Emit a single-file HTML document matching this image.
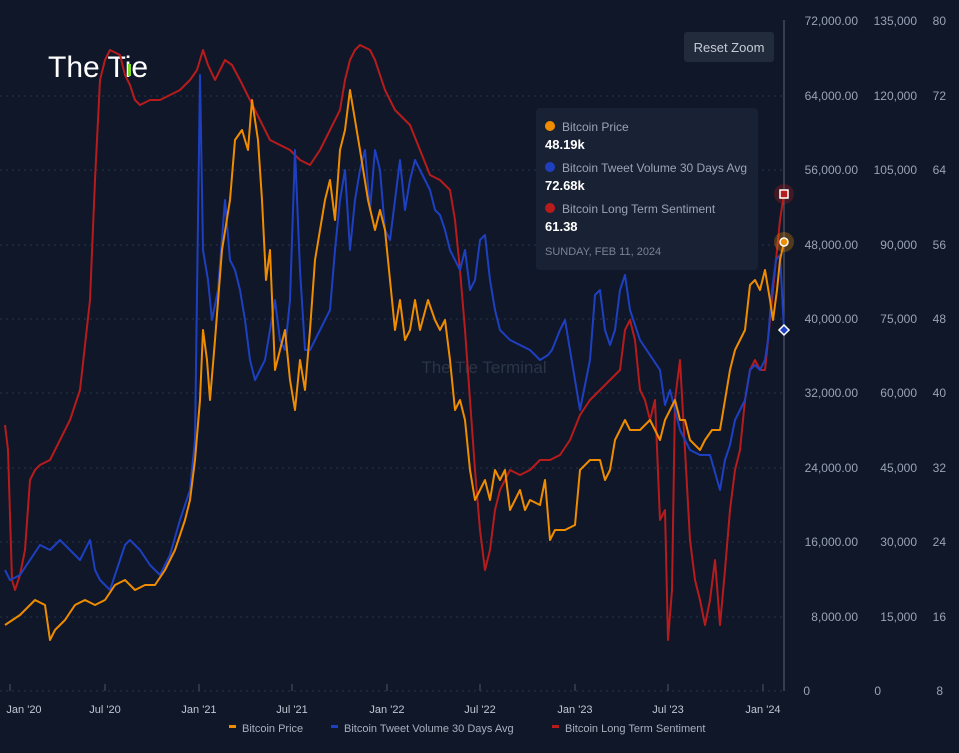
<!DOCTYPE html>
<html><head><meta charset="utf-8"><style>
html,body{margin:0;padding:0;background:#0f1729;}
body{width:959px;height:753px;overflow:hidden;font-family:"Liberation Sans",sans-serif;position:relative;}
svg{position:absolute;left:0;top:0}
</style></head><body>
<svg width="959" height="753" viewBox="0 0 959 753" font-family="Liberation Sans, sans-serif">
<rect width="959" height="753" fill="#0f1729"/>
<g stroke="#2a3448" stroke-dasharray="2,4" stroke-width="1">
<line x1="0" x2="784" y1="96" y2="96"/><line x1="0" x2="784" y1="170" y2="170"/>
<line x1="0" x2="784" y1="245" y2="245"/><line x1="0" x2="784" y1="319" y2="319"/>
<line x1="0" x2="784" y1="393" y2="393"/><line x1="0" x2="784" y1="468" y2="468"/>
<line x1="0" x2="784" y1="542" y2="542"/><line x1="0" x2="784" y1="617" y2="617"/>
<line x1="0" x2="784" y1="691" y2="691"/>
</g>
<g stroke="#4a5468" stroke-width="1">
<line x1="10" x2="10" y1="684" y2="691"/><line x1="105" x2="105" y1="684" y2="691"/>
<line x1="199" x2="199" y1="684" y2="691"/><line x1="292" x2="292" y1="684" y2="691"/>
<line x1="387" x2="387" y1="684" y2="691"/><line x1="480" x2="480" y1="684" y2="691"/>
<line x1="575" x2="575" y1="684" y2="691"/><line x1="668" x2="668" y1="684" y2="691"/>
<line x1="763" x2="763" y1="684" y2="691"/>
</g>
<text x="484" y="373" fill="#2b3548" font-size="17" text-anchor="middle">The Tie Terminal</text>
<text x="48" y="77" fill="#ffffff" font-size="30">The Tie</text>
<rect x="128" y="64" width="3" height="12" fill="#7ddc2a"/>
<line x1="784" x2="784" y1="20" y2="691" stroke="#5a6478" stroke-width="1"/>
<polyline fill="none" stroke="#b71c1c" stroke-width="2" stroke-linejoin="round" points="5,425 8,450 12,580 15,590 20,575 25,550 30,480 35,470 40,465 50,460 60,440 70,420 80,390 90,300 95,180 100,80 105,60 110,50 120,55 125,75 130,85 135,100 140,105 150,100 160,100 170,95 180,90 190,80 197,70 203,50 208,65 215,80 220,70 225,60 232,65 240,80 250,100 260,120 270,140 280,145 290,150 300,160 310,165 320,150 330,130 340,110 345,80 350,60 355,50 360,45 370,50 375,60 385,90 395,110 410,125 420,150 430,175 440,180 450,190 455,220 460,270 465,330 470,400 475,470 480,530 485,570 490,550 495,510 500,490 505,480 510,470 520,475 530,470 540,460 550,460 560,455 570,440 580,415 590,400 600,390 610,380 620,370 625,330 630,320 635,340 640,390 645,400 650,420 655,400 660,520 665,510 668,640 672,590 675,400 680,360 685,450 690,540 695,580 700,600 705,625 710,600 715,560 720,625 725,570 730,510 735,470 740,450 745,400 750,370 755,360 760,370 765,370 768,340 772,300 776,260 780,220 784,194"/>
<polyline fill="none" stroke="#1e40c0" stroke-width="2" stroke-linejoin="round" points="5,570 10,580 20,575 30,560 40,545 50,550 60,540 70,550 80,560 90,540 95,570 100,580 110,590 120,560 125,545 130,540 140,550 150,565 160,575 170,555 180,520 190,490 195,440 200,75 203,250 208,280 212,320 218,290 225,200 230,260 235,270 240,290 245,320 250,360 255,380 260,370 265,360 270,330 275,300 280,340 285,350 290,300 295,150 300,270 305,350 310,350 315,340 320,330 325,320 330,310 335,250 340,200 345,170 350,250 355,200 360,170 365,150 370,210 375,150 380,170 385,230 390,240 395,200 400,160 405,210 410,180 415,160 420,170 425,180 430,190 435,210 440,215 445,230 450,250 455,260 460,270 465,250 470,290 475,280 480,240 485,235 490,280 495,310 500,330 510,340 520,345 530,350 540,360 548,355 552,350 560,330 565,320 570,350 575,380 580,410 590,360 595,295 600,290 605,330 610,345 615,330 620,290 625,275 630,310 640,340 650,355 660,370 665,405 670,390 675,410 680,430 690,450 700,455 710,455 720,490 725,460 730,445 735,420 740,410 745,400 750,370 755,365 760,370 765,360 768,340 772,290 776,260 780,255 784,330"/>
<polyline fill="none" stroke="#f08c00" stroke-width="2" stroke-linejoin="round" points="5,625 20,615 35,600 45,605 50,640 55,630 65,620 75,605 85,600 95,605 105,600 115,585 125,580 135,590 145,585 155,585 165,570 175,550 185,520 190,500 195,460 200,400 203,330 207,360 210,400 215,340 222,250 230,200 235,140 242,130 248,150 252,100 258,140 262,200 266,280 270,250 275,370 280,350 285,330 290,380 295,410 300,360 305,390 310,330 315,260 320,230 325,200 330,180 335,220 340,150 345,130 350,90 355,120 360,150 368,200 375,230 380,210 385,230 390,280 395,330 400,300 405,340 410,330 415,300 420,330 428,300 435,320 440,330 445,320 450,360 455,410 460,400 465,420 470,470 475,500 480,490 485,480 490,500 495,470 500,480 505,470 510,510 515,500 520,490 525,510 530,500 540,505 545,480 550,540 555,530 565,530 575,525 580,470 590,460 600,460 605,480 610,470 615,440 620,430 625,420 630,430 640,430 650,420 660,440 665,420 670,410 675,400 680,420 685,420 690,440 695,445 700,450 705,440 712,430 720,430 725,400 730,370 735,350 740,340 745,330 750,285 755,280 760,290 765,270 770,300 773,320 777,290 780,260 784,242"/>
<circle cx="784" cy="194" r="10" fill="#b71c1c" opacity="0.3"/>
<rect x="780" y="190" width="8" height="8" fill="#b71c1c" stroke="#fff" stroke-width="1.5"/>
<circle cx="784" cy="242" r="10" fill="#f08c00" opacity="0.3"/>
<circle cx="784" cy="242" r="4" fill="#f08c00" stroke="#fff" stroke-width="1.5"/>
<polygon points="784,325 789,330 784,335 779,330" fill="#1e40c0" stroke="#fff" stroke-width="1.5"/>
<rect x="536" y="108" width="222" height="162" rx="4" fill="#1a2335" opacity="0.97"/>
<circle cx="550" cy="126" r="5" fill="#f08c00"/>
<text x="562" y="131" fill="#9aa3b5" font-size="12">Bitcoin Price</text>
<text x="545" y="149" fill="#ffffff" font-size="13" font-weight="bold">48.19k</text>
<circle cx="550" cy="167" r="5" fill="#1e40c0"/>
<text x="562" y="172" fill="#9aa3b5" font-size="12">Bitcoin Tweet Volume 30 Days Avg</text>
<text x="545" y="190" fill="#ffffff" font-size="13" font-weight="bold">72.68k</text>
<circle cx="550" cy="208" r="5" fill="#b71c1c"/>
<text x="562" y="213" fill="#9aa3b5" font-size="12">Bitcoin Long Term Sentiment</text>
<text x="545" y="231" fill="#ffffff" font-size="13" font-weight="bold">61.38</text>
<text x="545" y="255" fill="#7a8396" font-size="11">SUNDAY, FEB 11, 2024</text>
<rect x="684" y="32" width="90" height="30" rx="3" fill="#222b3c"/>
<text x="729" y="52" fill="#c5cbd6" font-size="13" text-anchor="middle">Reset Zoom</text>
<g fill="#9aa3b5" font-size="12">
<g text-anchor="end">
<text x="858" y="25">72,000.00</text><text x="858" y="100">64,000.00</text><text x="858" y="174">56,000.00</text>
<text x="858" y="249">48,000.00</text><text x="858" y="323">40,000.00</text><text x="858" y="397">32,000.00</text>
<text x="858" y="472">24,000.00</text><text x="858" y="546">16,000.00</text><text x="858" y="621">8,000.00</text>
<text x="810" y="695">0</text>
<text x="917" y="25">135,000</text><text x="917" y="100">120,000</text><text x="917" y="174">105,000</text>
<text x="917" y="249">90,000</text><text x="917" y="323">75,000</text><text x="917" y="397">60,000</text>
<text x="917" y="472">45,000</text><text x="917" y="546">30,000</text><text x="917" y="621">15,000</text>
<text x="881" y="695">0</text>
<text x="946" y="25">80</text><text x="946" y="100">72</text><text x="946" y="174">64</text>
<text x="946" y="249">56</text><text x="946" y="323">48</text><text x="946" y="397">40</text>
<text x="946" y="472">32</text><text x="946" y="546">24</text><text x="946" y="621">16</text><text x="943" y="695">8</text>
</g>
<g font-size="11" text-anchor="middle" fill="#c0c6d2">
<text x="24" y="713">Jan '20</text><text x="105" y="713">Jul '20</text><text x="199" y="713">Jan '21</text>
<text x="292" y="713">Jul '21</text><text x="387" y="713">Jan '22</text><text x="480" y="713">Jul '22</text>
<text x="575" y="713">Jan '23</text><text x="668" y="713">Jul '23</text><text x="763" y="713">Jan '24</text>
</g>
<g font-size="11" fill="#a8b0be">
<rect x="229" y="725" width="7" height="3" fill="#f08c00"/><text x="242" y="732">Bitcoin Price</text>
<rect x="331" y="725" width="7" height="3" fill="#1e40c0"/><text x="344" y="732">Bitcoin Tweet Volume 30 Days Avg</text>
<rect x="552" y="725" width="7" height="3" fill="#b71c1c"/><text x="565" y="732">Bitcoin Long Term Sentiment</text>
</g>
</g>
</svg>
</body></html>
